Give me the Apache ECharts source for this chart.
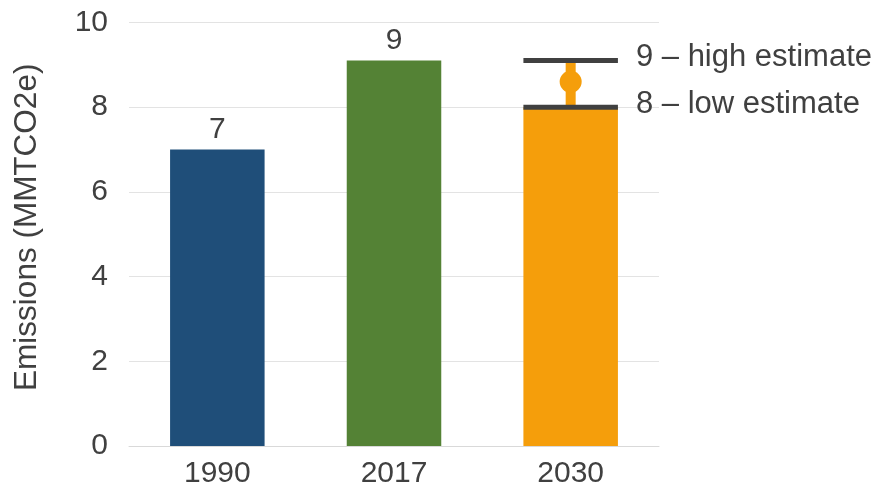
<!DOCTYPE html>
<html>
<head>
<meta charset="utf-8">
<script src="https://cdn.jsdelivr.net/npm/echarts@6/dist/echarts.min.js"></script>
<style>html,body{margin:0;padding:0;background:#fff}#c{width:876px;height:489px}</style>
</head>
<body>
<div id="c"></div>
<script>
var categories = ['1990', '2017', '2030'];
var emissions = [7.0, 9.1, 8.0];
var barColors = ['#1f4e79', '#548235', '#f59e0b'];
var barLabels = ['7', '9', ''];
var estimateIndex = 2;
var estimateLow = 8.0;
var estimateHigh = 9.1;
var estimateMid = 8.6;
var estimateLabels = ['8 \u2013 low estimate', '9 \u2013 high estimate'];
var yTicks = [0, 2, 4, 6, 8, 10];

var FONT = 'Liberation Sans, Arial, sans-serif';
var TXT = '#404040';
var FS = 30;

var chart = echarts.init(document.getElementById('c'), null, {renderer: 'canvas'});

var option = {
  animation: false,
  backgroundColor: '#ffffff',
  grid: {left: 129, right: 217, top: 22.5, bottom: 42},
  xAxis: {
    type: 'category',
    data: categories,
    axisTick: {show: false},
    axisLine: {show: true, lineStyle: {color: '#d9d9d9', width: 1}},
    axisLabel: {color: TXT, fontFamily: FONT, fontSize: FS, margin: 13}
  },
  yAxis: {
    type: 'value',
    min: yTicks[0],
    max: yTicks[yTicks.length - 1],
    interval: yTicks[1] - yTicks[0],
    name: 'Emissions (MMTCO2e)',
    nameLocation: 'middle',
    nameGap: 86,
    nameTextStyle: {color: TXT, fontFamily: FONT, fontSize: 31.5, padding: [0, 0, 0, 14]},
    axisLine: {show: false},
    axisTick: {show: false},
    splitLine: {lineStyle: {color: '#e3e3e3', width: 1}},
    axisLabel: {color: TXT, fontFamily: FONT, fontSize: FS, margin: 21}
  },
  series: [
    {
      type: 'bar',
      barWidth: '53.5%',
      data: emissions.map(function (v, i) {
        return {
          value: v,
          itemStyle: {color: barColors[i]},
          label: {show: barLabels[i] !== '', formatter: barLabels[i]}
        };
      }),
      label: {position: 'top', distance: 5, color: TXT, fontFamily: FONT, fontSize: FS}
    },
    {
      type: 'custom',
      z: 10,
      data: [[estimateIndex, estimateLow, estimateHigh, estimateMid]],
      renderItem: function (params, api) {
        var x = api.value(0);
        var pLow = api.coord([x, api.value(1)]);
        var pHigh = api.coord([x, api.value(2)]);
        var pMid = api.coord([x, api.value(3)]);
        var bw = api.size([1, 0])[0] * 0.535;
        var half = bw / 2;
        var cx = pLow[0];
        var textX = cx + half + 18;
        return {
          type: 'group',
          children: [
            {type: 'line', shape: {x1: cx, y1: pLow[1], x2: cx, y2: pHigh[1]},
             style: {stroke: '#f59e0b', lineWidth: 10}},
            {type: 'circle', shape: {cx: pMid[0], cy: pMid[1], r: 11},
             style: {fill: '#f59e0b'}},
            {type: 'line', shape: {x1: cx - half, y1: pHigh[1], x2: cx + half, y2: pHigh[1]},
             style: {stroke: '#404040', lineWidth: 5}},
            {type: 'line', shape: {x1: cx - half, y1: pLow[1], x2: cx + half, y2: pLow[1]},
             style: {stroke: '#404040', lineWidth: 5}},
            {type: 'text', x: textX, y: pHigh[1] - 3,
             style: {text: estimateLabels[1], fill: TXT, font: '31px ' + FONT, textAlign: 'left', textVerticalAlign: 'middle'}},
            {type: 'text', x: textX, y: pLow[1] - 3,
             style: {text: estimateLabels[0], fill: TXT, font: '31px ' + FONT, textAlign: 'left', textVerticalAlign: 'middle'}}
          ]
        };
      }
    }
  ]
};
chart.setOption(option);
</script>
</body>
</html>
